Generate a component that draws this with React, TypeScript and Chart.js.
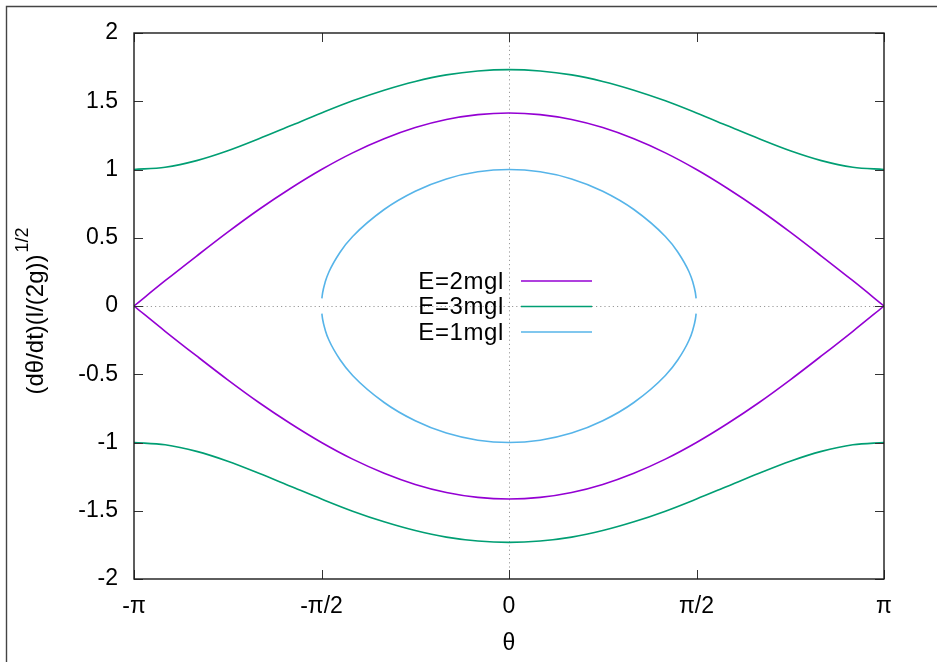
import React, { useEffect, useRef } from 'react';
import { Chart, registerables } from 'chart.js';

Chart.register(...registerables);

const PI = Math.PI;
const FONT = '"Liberation Sans", Arial, sans-serif';

// sample angles, in units of π
const THETA_OUTER = [-1, -0.917, -0.833, -0.75, -0.667, -0.583, -0.5, -0.417, -0.333, -0.25, -0.167, -0.083, 0, 0.083, 0.167, 0.25, 0.333, 0.417, 0.5, 0.583, 0.667, 0.75, 0.833, 0.917, 1];
const E2_UPPER = [0, 0.185, 0.366, 0.541, 0.707, 0.861, 1.0, 1.122, 1.225, 1.307, 1.366, 1.402, 1.414, 1.402, 1.366, 1.307, 1.225, 1.122, 1.0, 0.861, 0.707, 0.541, 0.366, 0.185, 0];
const E2_LOWER = [0, -0.185, -0.366, -0.541, -0.707, -0.861, -1.0, -1.122, -1.225, -1.307, -1.366, -1.402, -1.414, -1.402, -1.366, -1.307, -1.225, -1.122, -1.0, -0.861, -0.707, -0.541, -0.366, -0.185, 0];
const E3_UPPER = [1.0, 1.017, 1.065, 1.137, 1.225, 1.32, 1.414, 1.503, 1.581, 1.645, 1.693, 1.722, 1.732, 1.722, 1.693, 1.645, 1.581, 1.503, 1.414, 1.32, 1.225, 1.137, 1.065, 1.017, 1.0];
const E3_LOWER = [-1.0, -1.017, -1.065, -1.137, -1.225, -1.32, -1.414, -1.503, -1.581, -1.645, -1.693, -1.722, -1.732, -1.722, -1.693, -1.645, -1.581, -1.503, -1.414, -1.32, -1.225, -1.137, -1.065, -1.017, -1.0];
const THETA_INNER = [-0.499, -0.497, -0.49, -0.48, -0.45, -0.417, -0.333, -0.25, -0.167, -0.083, 0, 0.083, 0.167, 0.25, 0.333, 0.417, 0.45, 0.48, 0.49, 0.497, 0.499];
const E1_UPPER = [0.056, 0.097, 0.177, 0.251, 0.396, 0.509, 0.707, 0.841, 0.931, 0.983, 1.0, 0.983, 0.931, 0.841, 0.707, 0.509, 0.396, 0.251, 0.177, 0.097, 0.056];
const E1_LOWER = [-0.056, -0.097, -0.177, -0.251, -0.396, -0.509, -0.707, -0.841, -0.931, -0.983, -1.0, -0.983, -0.931, -0.841, -0.707, -0.509, -0.396, -0.251, -0.177, -0.097, -0.056];

const SERIES_LABELS = ['E=2mgl', 'E=3mgl', 'E=1mgl'];
const SERIES_COLORS = ['#9400d3', '#009e73', '#56b4e9'];

const X_TICK_UNITS = [-1, -0.5, 0, 0.5, 1];
const X_TICK_LABELS = ['-π', '-π/2', '0', 'π/2', 'π'];
const Y_TICK_VALUES = [-2, -1.5, -1, -0.5, 0, 0.5, 1, 1.5, 2];
const Y_TICK_LABELS = ['-2', '-1.5', '-1', '-0.5', '0', '0.5', '1', '1.5', '2'];
const X_TITLE = 'θ';
const Y_TITLE = '(dθ/dt)(l/(2g))';
const Y_TITLE_SUP = '1/2';

function branch(thetas: number[], upper: number[], lower: number[]) {
  const pts: { x: number; y: number | null }[] = [];
  thetas.forEach((t, i) => pts.push({ x: t * PI, y: upper[i] }));
  pts.push({ x: thetas[thetas.length - 1] * PI, y: null });
  thetas.forEach((t, i) => pts.push({ x: t * PI, y: lower[i] }));
  return pts;
}

const decorPlugin = {
  id: 'decor',
  beforeDatasetsDraw(chart: any) {
    const { ctx, chartArea, scales } = chart;
    const { left, right, top, bottom } = chartArea;
    ctx.save();
    ctx.strokeStyle = '#9a9a9a';
    ctx.lineWidth = 1;
    ctx.setLineDash([1.2, 3]);
    const x0 = Math.round(scales.x.getPixelForValue(0)) + 0.5;
    const y0 = Math.round(scales.y.getPixelForValue(0)) + 0.5;
    ctx.beginPath();
    ctx.moveTo(x0, top);
    ctx.lineTo(x0, bottom);
    ctx.moveTo(left, y0);
    ctx.lineTo(right, y0);
    ctx.stroke();
    ctx.restore();
  },
  afterDatasetsDraw(chart: any) {
    const { ctx, chartArea, scales } = chart;
    const { left, right, top, bottom } = chartArea;
    ctx.save();
    ctx.strokeStyle = '#333';
    ctx.lineWidth = 1;
    const tl = 9;
    ctx.beginPath();
    scales.y.ticks.forEach((t: any) => {
      const py = Math.round(scales.y.getPixelForValue(t.value)) + 0.5;
      ctx.moveTo(left, py);
      ctx.lineTo(left + tl, py);
      ctx.moveTo(right, py);
      ctx.lineTo(right - tl, py);
    });
    scales.x.ticks.forEach((t: any) => {
      const px = Math.round(scales.x.getPixelForValue(t.value)) + 0.5;
      ctx.moveTo(px, bottom);
      ctx.lineTo(px, bottom - tl);
      ctx.moveTo(px, top);
      ctx.lineTo(px, top + tl);
    });
    ctx.stroke();
    ctx.strokeStyle = '#1a1a1a';
    ctx.lineWidth = 1.4;
    ctx.strokeRect(left, top, right - left, bottom - top);
    ctx.restore();
  },
  afterDraw(chart: any) {
    const { ctx, chartArea } = chart;
    ctx.save();
    // page frame
    ctx.strokeStyle = '#444';
    ctx.lineWidth = 1.4;
    ctx.beginPath();
    ctx.moveTo(6.5, chart.height);
    ctx.lineTo(6.5, 6.5);
    ctx.lineTo(chart.width, 6.5);
    ctx.stroke();

    // legend
    const textRight = 504;
    const lineX1 = 521;
    const lineX2 = 592;
    const rowY = [281, 306.5, 332];
    ctx.font = `24px ${FONT}`;
    (ctx as any).letterSpacing = '0.6px';
    ctx.textAlign = 'right';
    ctx.textBaseline = 'middle';
    chart.data.datasets.forEach((ds: any, i: number) => {
      ctx.fillStyle = '#000';
      ctx.fillText(ds.label, textRight, rowY[i] + 1);
      ctx.strokeStyle = ds.borderColor;
      ctx.lineWidth = 1.6;
      ctx.beginPath();
      ctx.moveTo(lineX1, rowY[i]);
      ctx.lineTo(lineX2, rowY[i]);
      ctx.stroke();
    });
    (ctx as any).letterSpacing = '0px';

    // y title with superscript
    const cy = (chartArea.top + chartArea.bottom) / 2 + 5;
    ctx.translate(43, cy);
    ctx.rotate(-Math.PI / 2);
    ctx.font = `24px ${FONT}`;
    const wMain = ctx.measureText(Y_TITLE).width;
    ctx.font = `18px ${FONT}`;
    const wSup = ctx.measureText(Y_TITLE_SUP).width;
    const total = wMain + wSup + 2;
    ctx.textAlign = 'left';
    ctx.textBaseline = 'alphabetic';
    ctx.fillStyle = '#000';
    ctx.font = `24px ${FONT}`;
    ctx.fillText(Y_TITLE, -total / 2, 0);
    ctx.font = `18px ${FONT}`;
    ctx.fillText(Y_TITLE_SUP, -total / 2 + wMain + 2, -15);
    ctx.restore();
  },
};

export default function App() {
  const ref = useRef<HTMLCanvasElement | null>(null);
  useEffect(() => {
    if (!ref.current) return;
    const datasets = [
      branch(THETA_OUTER, E2_UPPER, E2_LOWER),
      branch(THETA_OUTER, E3_UPPER, E3_LOWER),
      branch(THETA_INNER, E1_UPPER, E1_LOWER),
    ].map((data, i) => ({
      label: SERIES_LABELS[i],
      data,
      borderColor: SERIES_COLORS[i],
      backgroundColor: SERIES_COLORS[i],
      borderWidth: 1.6,
      pointRadius: 0,
      fill: false,
      spanGaps: false,
      cubicInterpolationMode: 'monotone' as const,
    }));
    const chart = new Chart(ref.current, {
      type: 'line',
      data: { datasets },
      plugins: [decorPlugin],
      options: {
        animation: false,
        responsive: false,
        maintainAspectRatio: false,
        layout: { padding: { left: 0, top: 33, right: 53, bottom: 0 } },
        plugins: { legend: { display: false }, tooltip: { enabled: false } },
        scales: {
          x: {
            type: 'linear',
            min: -PI,
            max: PI,
            afterBuildTicks: (scale: any) => {
              scale.ticks = X_TICK_UNITS.map((v) => ({ value: v * PI }));
            },
            afterFit: (scale: any) => {
              scale.height = 83;
            },
            grid: { display: false, drawTicks: false },
            border: { display: false },
            ticks: {
              autoSkip: false,
              maxRotation: 0,
              padding: 14,
              color: '#000',
              font: { family: FONT, size: 23 },
              callback: (_v: any, i: number) => X_TICK_LABELS[i],
            },
            title: {
              display: true,
              text: X_TITLE,
              color: '#000',
              font: { family: FONT, size: 23 },
              padding: { top: 0, bottom: 5 },
            },
          },
          y: {
            type: 'linear',
            min: Y_TICK_VALUES[0],
            max: Y_TICK_VALUES[Y_TICK_VALUES.length - 1],
            afterBuildTicks: (scale: any) => {
              scale.ticks = Y_TICK_VALUES.map((v) => ({ value: v }));
            },
            afterFit: (scale: any) => {
              scale.width = 134;
            },
            grid: { display: false, drawTicks: false },
            border: { display: false },
            ticks: {
              autoSkip: false,
              padding: 16,
              color: '#000',
              font: { family: FONT, size: 23 },
              callback: (_v: any, i: number) => Y_TICK_LABELS[i],
            },
          },
        },
      },
    });
    return () => chart.destroy();
  }, []);
  return (
    <div style={{ position: 'absolute', left: 0, top: 0, width: 937, height: 662, background: '#fff' }}>
      <canvas ref={ref} width={937} height={662} style={{ display: 'block', width: 937, height: 662 }} />
    </div>
  );
}
